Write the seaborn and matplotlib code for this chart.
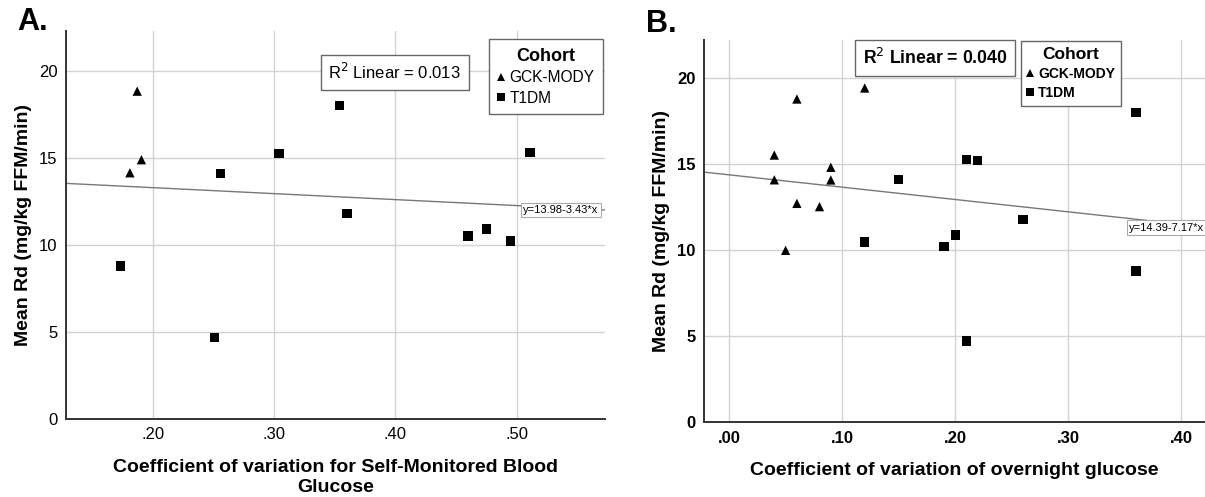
import matplotlib
matplotlib.use("Agg")
import numpy as np
import pandas as pd
import matplotlib.pyplot as plt
import seaborn as sns
from matplotlib.ticker import FuncFormatter

# Panel A: CV of self-monitored blood glucose vs mean Rd
smbg_gck_x = [0.181, 0.187, 0.1905]
smbg_gck_y = [14.15, 18.84, 14.9]
smbg_t1_x = [0.173, 0.251, 0.256, 0.304, 0.354, 0.360, 0.460, 0.475, 0.495, 0.511]
smbg_t1_y = [8.8, 4.7, 14.11, 15.26, 18.0, 11.8, 10.52, 10.92, 10.23, 15.3]
smbg_fit = [13.98, -3.43]   # intercept, slope
smbg_r2 = 0.013

# Panel B: CV of overnight glucose vs mean Rd
ovn_gck_x = [0.04, 0.04, 0.05, 0.06, 0.06, 0.08, 0.09, 0.09, 0.12]
ovn_gck_y = [15.54, 14.1, 10.0, 18.8, 12.73, 12.54, 14.83, 14.09, 19.44]
ovn_t1_x = [0.12, 0.15, 0.19, 0.20, 0.21, 0.21, 0.22, 0.26, 0.36, 0.36]
ovn_t1_y = [10.48, 14.1, 10.21, 10.89, 15.27, 4.73, 15.23, 11.78, 18.0, 8.8]
ovn_fit = [14.39, -7.17]
ovn_r2 = 0.040

cohorts = ["GCK-MODY", "T1DM"]
y_ticks = [0, 5, 10, 15, 20]
ylabel = "Mean Rd (mg/kg FFM/min)"

sns.set_theme(style="whitegrid")
plt.rcParams["font.family"] = ["Liberation Sans", "DejaVu Sans"]
plt.rcParams["text.color"] = "black"
plt.rcParams["axes.labelcolor"] = "black"


def make_df(gx, gy, tx, ty):
    return pd.DataFrame({
        "x": gx + tx,
        "y": gy + ty,
        "Cohort": [cohorts[0]] * len(gx) + [cohorts[1]] * len(tx),
    })


def draw_panel(ax, df, xlim, ylim, xticks, fit, r2, xlabel, bold, r2_pos, leg_anchor, eq_pos,
               leg_size, leg_pad, title_size):
    w = "bold" if bold else "normal"
    sns.scatterplot(data=df, x="x", y="y", style="Cohort", markers={"GCK-MODY": "^", "T1DM": "s"},
                    style_order=cohorts, color="black", s=45, edgecolor="black", linewidth=0,
                    ax=ax, zorder=3)
    ax.set_xlim(*xlim)
    ax.set_ylim(*ylim)
    ax.set_xticks(xticks)
    ax.set_yticks(y_ticks)
    ax.xaxis.set_major_formatter(FuncFormatter(lambda v, p: ("%.2f" % v).replace("0.", ".", 1)))
    ax.grid(True, color="#d2d2d2", linewidth=1)
    ax.set_facecolor("white")
    for side in ["top", "right"]:
        ax.spines[side].set_visible(False)
    for side in ["left", "bottom"]:
        ax.spines[side].set_color("#333333")
        ax.spines[side].set_linewidth(1.4)
    ax.tick_params(length=0, labelsize=12, pad=6, colors="black")
    for lab in ax.get_xticklabels() + ax.get_yticklabels():
        lab.set_fontweight(w)
    ax.set_xlabel(xlabel, fontsize=14, fontweight="bold", labelpad=12, linespacing=1.2)
    ax.set_ylabel(ylabel, fontsize=14, fontweight="bold", labelpad=5)

    # fit line
    xs = np.array(xlim)
    ax.plot(xs, fit[0] + fit[1] * xs, color="#777777", linewidth=1, zorder=2)
    eq = "y=%.2f%.2f*x" % (fit[0], fit[1])
    ax.text(eq_pos[0], eq_pos[1], eq, transform=ax.transAxes, fontsize=8, va="center", ha="left",
            bbox=dict(boxstyle="square,pad=0.2", fc="white", ec="#aaaaaa", lw=0.8), zorder=5,
            clip_on=False)

    ax.text(r2_pos[0], r2_pos[1], "R$^2$ Linear = %.3f" % r2, transform=ax.transAxes,
            fontsize=12 if not bold else 12.7,
            fontweight=w, ha="center", va="center",
            bbox=dict(boxstyle="square,pad=0.45", fc="white", ec="#666666", lw=1), zorder=5)

    handles, labels = ax.get_legend_handles_labels()
    for h in handles:
        h.set_markersize(6)
    leg = ax.legend(handles, labels, title="Cohort", loc="upper left", bbox_to_anchor=leg_anchor,
                    frameon=True, fancybox=False, edgecolor="#666666", framealpha=1,
                    handlelength=0.5, handletextpad=0.3, borderpad=leg_pad, labelspacing=0.35,
                    borderaxespad=0,
                    prop={"size": leg_size, "weight": w},
                    title_fontproperties={"size": title_size, "weight": "bold"})
    leg.get_frame().set_linewidth(1)
    leg.set_zorder(6)


fig = plt.figure(figsize=(12.05, 4.97), dpi=100)
ax_a = fig.add_axes([0.0545, 0.157, 0.4476, 0.7807])
ax_b = fig.add_axes([0.5844, 0.1503, 0.4156, 0.7692])

df_a = make_df(smbg_gck_x, smbg_gck_y, smbg_t1_x, smbg_t1_y)
df_b = make_df(ovn_gck_x, ovn_gck_y, ovn_t1_x, ovn_t1_y)

draw_panel(ax_a, df_a, (0.128, 0.573), (0, 22.3), [0.2, 0.3, 0.4, 0.5], smbg_fit, smbg_r2,
           "Coefficient of variation for Self-Monitored Blood\nGlucose", False,
           (0.61, 0.894), (0.784, 0.979), (0.848, 0.539), 11.2, 0.55, 13)
draw_panel(ax_b, df_b, (-0.022, 0.421), (0, 22.23), [0.0, 0.1, 0.2, 0.3, 0.4], ovn_fit, ovn_r2,
           "Coefficient of variation of overnight glucose", True,
           (0.461, 0.952), (0.632, 0.998), (0.848, 0.5095), 10, 0.45, 12.5)

fig.text(0.014, 0.985, "A.", fontsize=22, fontweight="bold", va="top", ha="left")
fig.text(0.536, 0.982, "B.", fontsize=22, fontweight="bold", va="top", ha="left")

fig.savefig("out.png", dpi=100)
